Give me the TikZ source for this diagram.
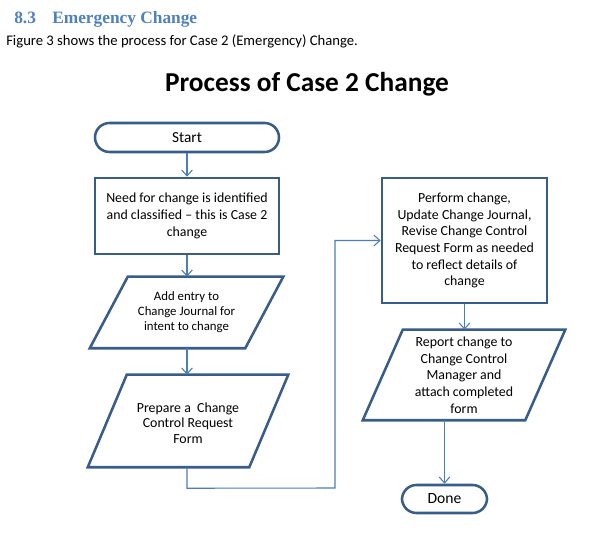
\documentclass[tikz,border=0pt]{standalone}
\usepackage{fontspec}
\setmainfont{Carlito}
\newfontfamily\headserif{Liberation Serif}
\usetikzlibrary{arrows.meta,calc}
\definecolor{headblue}{RGB}{79,129,189}
\definecolor{borderblue}{RGB}{56,93,138}
\definecolor{linkblue}{RGB}{74,126,187}
\tikzset{
  boxstyle/.style={draw=borderblue, line width=1.9pt, fill=white, rectangle, align=center, font=\fontsize{10.4}{12.5}\selectfont, inner sep=0pt},
  parastyle/.style={rectangle, align=center, font=\fontsize{10.4}{12.5}\selectfont, inner sep=0pt},
  paraline/.style={draw=borderblue, line width=1.9pt, line join=miter, fill=white},
  termstyle/.style={draw=borderblue, line width=1.9pt, fill=white, rounded corners=14.5*0.75pt, rectangle, align=center, inner sep=0pt},
  link/.style={draw=linkblue, line width=0.8pt, -{Straight Barb[length=4.5pt,width=8pt]}},
  linkplain/.style={draw=linkblue, line width=0.8pt}
}
\begin{document}
\begin{tikzpicture}[x=0.75pt,y=-0.75pt]
\useasboundingbox (0,0) rectangle (604,538);
\fill[white] (0,0) rectangle (604,538);
% heading
\node[anchor=base west, inner sep=0pt, text=headblue, font=\headserif\bfseries\fontsize{13}{15}\selectfont] (hnum) at (14,24) {8.3};
\node[anchor=base west, inner sep=0pt, text=headblue, font=\headserif\bfseries\fontsize{13}{15}\selectfont] (htxt) at (52,24) {Emergency Change};
\node[anchor=base west, inner sep=0pt, font=\fontsize{11}{13}\selectfont] (body) at (6,46) {Figure 3 shows the process for Case 2 (Emergency) Change.};
% title
\node[anchor=base, inner sep=0pt, font=\bfseries\fontsize{20.5}{24}\selectfont] (title) at (307,92) {Process of Case 2 Change};
% start
\node[termstyle, minimum width=184*0.75pt, minimum height=29*0.75pt, font=\fontsize{11.5}{13}\selectfont] (start) at (187,137.5) {Start};
% box1
\node[boxstyle, minimum width=184*0.75pt, minimum height=76*0.75pt] (box1) at (187,216) {Need for change is identified\\and classified -- this is Case 2\\change};
% para1
\node[parastyle, minimum width=193*0.75pt, minimum height=71*0.75pt] (p1) at (186.5,312.5) {};
\path[paraline] ($(p1.north west)+(38,0)$) -- (p1.north east) -- ($(p1.south east)-(38,0)$) -- (p1.south west) -- cycle;
\node[parastyle, font=\fontsize{9.6}{11.3}\selectfont] (p1t) at (p1.center) {Add entry to\\Change Journal for\\intent to change};
% para2
\node[parastyle, minimum width=200*0.75pt, minimum height=92*0.75pt] (p2) at (188,421) {};
\path[paraline] ($(p2.north west)+(39,0)$) -- (p2.north east) -- ($(p2.south east)-(39,0)$) -- (p2.south west) -- cycle;
\node[parastyle, font=\fontsize{10.4}{11.7}\selectfont] (p2t) at ($(p2.center)+(0,2)$) {Prepare a \ Change\\Control Request\\Form};
% box2
\node[boxstyle, minimum width=165*0.75pt, minimum height=125*0.75pt] (box2) at (464.5,240.5) {Perform change,\\Update Change Journal,\\Revise Change Control\\Request Form as needed\\to reflect details of\\change};
% para3
\node[parastyle, minimum width=202*0.75pt, minimum height=90*0.75pt] (p3) at (464,375) {};
\path[paraline] ($(p3.north west)+(40,0)$) -- (p3.north east) -- ($(p3.south east)-(40,0)$) -- (p3.south west) -- cycle;
\node[parastyle] (p3t) at (p3.center) {Report change to\\Change Control\\Manager and\\attach completed\\form};
% done
\node[termstyle, minimum width=85*0.75pt, minimum height=28*0.75pt, font=\fontsize{11.7}{13}\selectfont] (done) at (444.5,499) {Done};
% connectors
\draw[link] (start.south) -- (box1.north);
\draw[link] (box1.south) -- (box1.south |- p1.north);
\draw[link] (p1.south -| box1.south) -- (box1.south |- p2.north);
\coordinate (c1) at ($(box1.south |- p2.south)+(0,21)$);
\coordinate (c2) at (335,488);
\draw[link] (box1.south |- p2.south) -- (c1) -- (c2) -- (c2 |- box2.west) -- (box2.west);
\draw[link] (box2.south) -- (box2.south |- p3.north);
\draw[link] (done.north |- p3.south) -- (done.north);
\end{tikzpicture}
\end{document}
